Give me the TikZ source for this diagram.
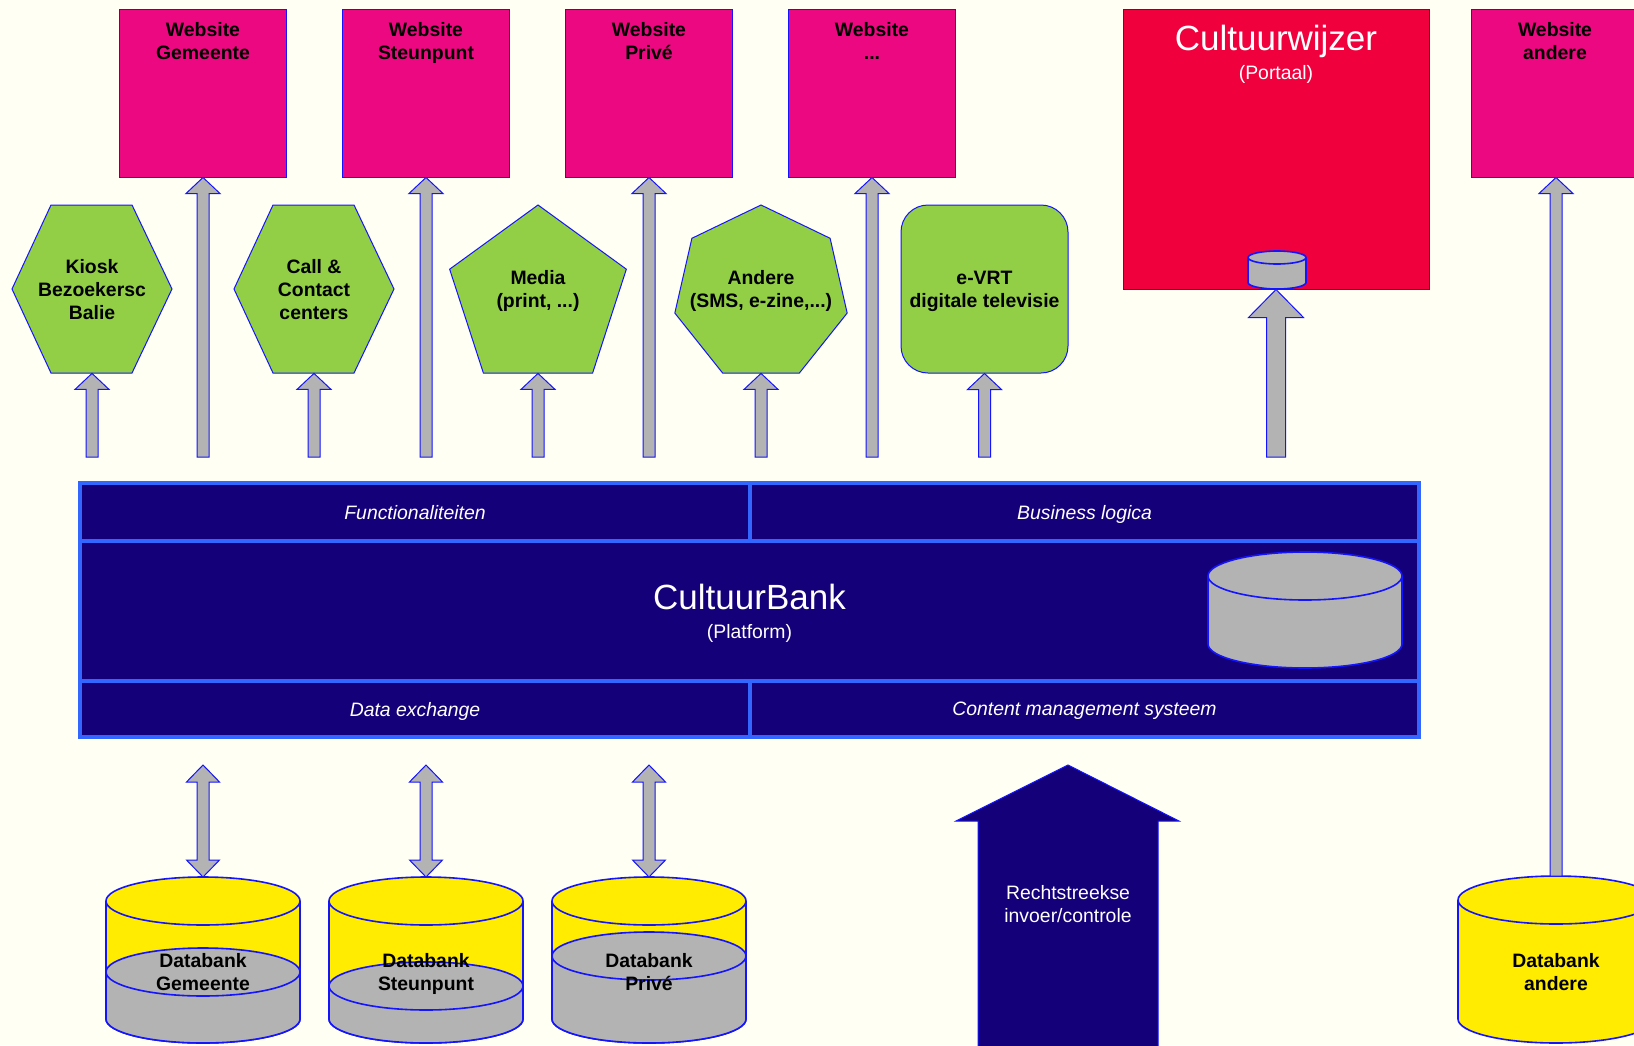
\documentclass[tikz,border=0pt]{standalone}
\usepackage{fontspec}
\setmainfont{Liberation Sans}
\usetikzlibrary{shapes.geometric, calc}
\definecolor{paper}{RGB}{255,255,244}
\definecolor{webpink}{RGB}{236,8,128}
\definecolor{portalred}{RGB}{240,0,60}
\definecolor{changreen}{RGB}{146,206,70}
\definecolor{banknavy}{RGB}{20,0,120}
\definecolor{bankframe}{RGB}{51,102,255}
\definecolor{edgeblue}{RGB}{20,20,255}
\definecolor{arrowgray}{RGB}{179,179,179}
\definecolor{dbyellow}{RGB}{255,236,0}

% drum: name of top point, cx, rx, top y, bottom y, ry, colour
\newcommand{\drum}[7]{%
  \filldraw[drumline, fill=#7] (#2-#3,#4) -- (#2-#3,#5)
    arc[start angle=180, end angle=0, x radius=#3, y radius=#6] -- (#2+#3,#4);
  \filldraw[drumline, fill=#7] (#2,#4) ellipse[x radius=#3, y radius=#6];
  \coordinate (#1) at (#2,#4-#6);
}
% grey filling of a drum: cx, rx, level y, bottom y, ry
\newcommand{\drumlevel}[5]{%
  \filldraw[drumline, fill=arrowgray] (#1-#2,#3) -- (#1-#2,#4)
    arc[start angle=180, end angle=0, x radius=#2, y radius=#5] -- (#1+#2,#3);
  \filldraw[drumline, fill=arrowgray] (#1,#3) ellipse[x radius=#2, y radius=#5];
}

\begin{document}
\begin{tikzpicture}[
    x=0.5pt, y=-0.5pt,
    txt/.style={font=\fontsize{9.7}{11.5}\selectfont, align=center, text depth=0pt, inner sep=0pt},
    webtitle/.style={txt, font=\bfseries\fontsize{9.7}{11.5}\selectfont},
    website/.style={draw=edgeblue, line width=0.5pt, fill=webpink, minimum width=83.5pt, minimum height=84pt, inner sep=0pt},
    portal/.style={draw=edgeblue, line width=0.5pt, fill=portalred, minimum width=153pt, minimum height=140pt, inner sep=0pt},
    bigtitle/.style={txt, text=white, font=\fontsize{17.5}{20}\selectfont},
    subtitle/.style={txt, text=white},
    chanshape/.style={draw=edgeblue, line width=0.5pt, fill=changreen, inner sep=0pt},
    chantext/.style={webtitle, minimum height=84pt},
    bankcell/.style={draw=bankframe, line width=2pt, fill=banknavy, inner sep=0pt, text=white, text depth=0pt,
        font=\itshape\fontsize{9.7}{11.5}\selectfont},
    drumline/.style={draw=edgeblue, line width=0.8pt},
    bigarrow/.style={draw=edgeblue, line width=0.5pt, fill=banknavy},
    uparrow/.style n args={3}{draw=edgeblue, line width=0.5pt, fill=arrowgray,
        to path={let \p1=(\tikztostart), \p2=(\tikztotarget) in
          (\x1-#1,\y1) -- (\x1-#1,\y2-#3) -- (\x1-#2,\y2-#3) -- (\x1,\y2)
          -- (\x1+#2,\y2-#3) -- (\x1+#1,\y2-#3) -- (\x1+#1,\y1) -- cycle}},
    thinarrow/.style={uparrow={3pt}{8.5pt}{8pt}},
    portalarrow/.style={uparrow={4.75pt}{13.75pt}{14pt}},
    botharrow/.style={draw=edgeblue, line width=0.5pt, fill=arrowgray,
        to path={let \p1=(\tikztostart), \p2=(\tikztotarget) in
          (\x1,\y1) -- (\x1+8.25pt,\y1+8.5pt) -- (\x1+3pt,\y1+8.5pt) -- (\x1+3pt,\y2-8.5pt)
          -- (\x1+8.25pt,\y2-8.5pt) -- (\x1,\y2) -- (\x1-8.25pt,\y2-8.5pt) -- (\x1-3pt,\y2-8.5pt)
          -- (\x1-3pt,\y1+8.5pt) -- (\x1-8.25pt,\y1+8.5pt) -- cycle}}
]
    \useasboundingbox (0,0) rectangle (1634,1045);
    \fill[paper] (0,0) rectangle (1634,1045);
    \coordinate (uprow) at (0,457);
    \coordinate (dnrow) at (0,765);

    % Websites
    \node[website] (wgem) at (203,93) {};
    \node[website] (wste) at (426,93) {};
    \node[website] (wpri) at (649,93) {};
    \node[website] (wdots) at (872,93) {};
    \node[website] (wand) at (1555,93) {};
    \node[webtitle] (wgemtxt) at (203,40.5) {Website\\Gemeente};
    \node[webtitle] (wstetxt) at (426,40.5) {Website\\Steunpunt};
    \node[webtitle] (wpritxt) at (649,40.5) {Website\\Privé};
    \node[webtitle] (wdotstxt) at (872,40.5) {Website\\...};
    \node[webtitle] (wandtxt) at (1555,40.5) {Website\\andere};

    % Portal
    \node[portal] (portal) at (1276,149) {};
    \node[bigtitle] (portaltitle) at (1276,37.5) {Cultuurwijzer};
    \node[subtitle] (portalsub) at (1276,72) {(Portaal)};
    \drum{portaldrumtop}{1277}{29}{257.5}{282.5}{6.5}{arrowgray}

    % Channels
    \filldraw[chanshape] (12,289) -- (51,205) -- (132,205) -- (172,289) -- (132,373) -- (51,373) -- cycle;
    \filldraw[chanshape] (234,289) -- (273,205) -- (354,205) -- (394,289) -- (354,373) -- (273,373) -- cycle;
    \node[chanshape, regular polygon, regular polygon sides=5, minimum size=92.9pt] (mediashape) at (538,297.9) {};
    \node[chanshape, regular polygon, regular polygon sides=7, minimum size=88.4pt] (anderashape) at (761,293.4) {};
    \node[chantext] (kiosk) at (92,289) {Kiosk\\Bezoekersc\\Balie};
    \node[chantext] (call) at (314,289) {Call \&\\Contact\\centers};
    \node[chantext] (media) at (538,289) {Media\\(print, ...)};
    \node[chantext] (andere) at (761,289) {Andere\\(SMS, e-zine,...)};
    \node[chanshape, webtitle, rounded corners=13.5pt, minimum width=83.5pt, minimum height=84pt] (evrt) at (984.5,289) {e-VRT\\digitale televisie};

    % CultuurBank
    \node[bankcell, minimum width=335pt, minimum height=29pt] (func) at (415,512) {Functionaliteiten};
    \node[bankcell, minimum width=334.5pt, minimum height=29pt] (logic) at (1084.5,512) {Business logica};
    \node[bankcell, minimum width=669.5pt, minimum height=70pt] (core) at (749.5,611) {};
    \node[bankcell, minimum width=335pt, minimum height=28pt] (dataex) at (415,709) {Data exchange};
    \node[bankcell, minimum width=334.5pt, minimum height=28pt] (cms) at (1084.5,709) {Content management systeem};
    \drum{coredrumtop}{1305}{97}{576}{644}{24}{arrowgray}
    \node[bigtitle] (banktitle) at (749.5,597) {CultuurBank};
    \node[subtitle] (banksub) at (749.5,631) {(Platform)};

    % Arrows up
    \draw[thinarrow] (kiosk.south |- uprow) to (kiosk.south);
    \draw[thinarrow] (call.south |- uprow) to (call.south);
    \draw[thinarrow] (media.south |- uprow) to (media.south);
    \draw[thinarrow] (andere.south |- uprow) to (andere.south);
    \draw[thinarrow] (evrt.south |- uprow) to (evrt.south);
    \draw[thinarrow] (wgem.south |- uprow) to (wgem.south);
    \draw[thinarrow] (wste.south |- uprow) to (wste.south);
    \draw[thinarrow] (wpri.south |- uprow) to (wpri.south);
    \draw[thinarrow] (wdots.south |- uprow) to (wdots.south);
    \draw[portalarrow] (portal.south |- uprow) to (portal.south);

    % Databanks
    \drum{dbgemtop}{203}{97}{901}{1019}{24}{dbyellow}
    \drumlevel{203}{97}{972}{1019}{24}
    \drum{dbstetop}{426}{97}{901}{1019}{24}{dbyellow}
    \drumlevel{426}{97}{986}{1019}{24}
    \drum{dbpritop}{649}{97}{901}{1019}{24}{dbyellow}
    \drumlevel{649}{97}{956}{1019}{24}
    \drum{dbandtop}{1556}{98}{900}{1019}{24}{dbyellow}
    \node[webtitle] (dbgem) at (203,972) {Databank\\Gemeente};
    \node[webtitle] (dbste) at (426,972) {Databank\\Steunpunt};
    \node[webtitle] (dbpri) at (649,972) {Databank\\Privé};
    \node[webtitle] (dband) at (1556,972) {Databank\\andere};

    \draw[botharrow] (dbgemtop) to (wgem.south |- dnrow);
    \draw[botharrow] (dbstetop) to (wste.south |- dnrow);
    \draw[botharrow] (dbpritop) to (wpri.south |- dnrow);
    \draw[thinarrow] (dbandtop) to (wand.south);

    % Direct input
    \filldraw[bigarrow] (978,1060) -- (978,821) -- (956,821) -- (1068,765) -- (1179,821) -- (1158,821) -- (1158,1060) -- cycle;
    \node[subtitle] (direct) at (1068,904) {Rechtstreekse\\invoer/controle};
\end{tikzpicture}
\end{document}
